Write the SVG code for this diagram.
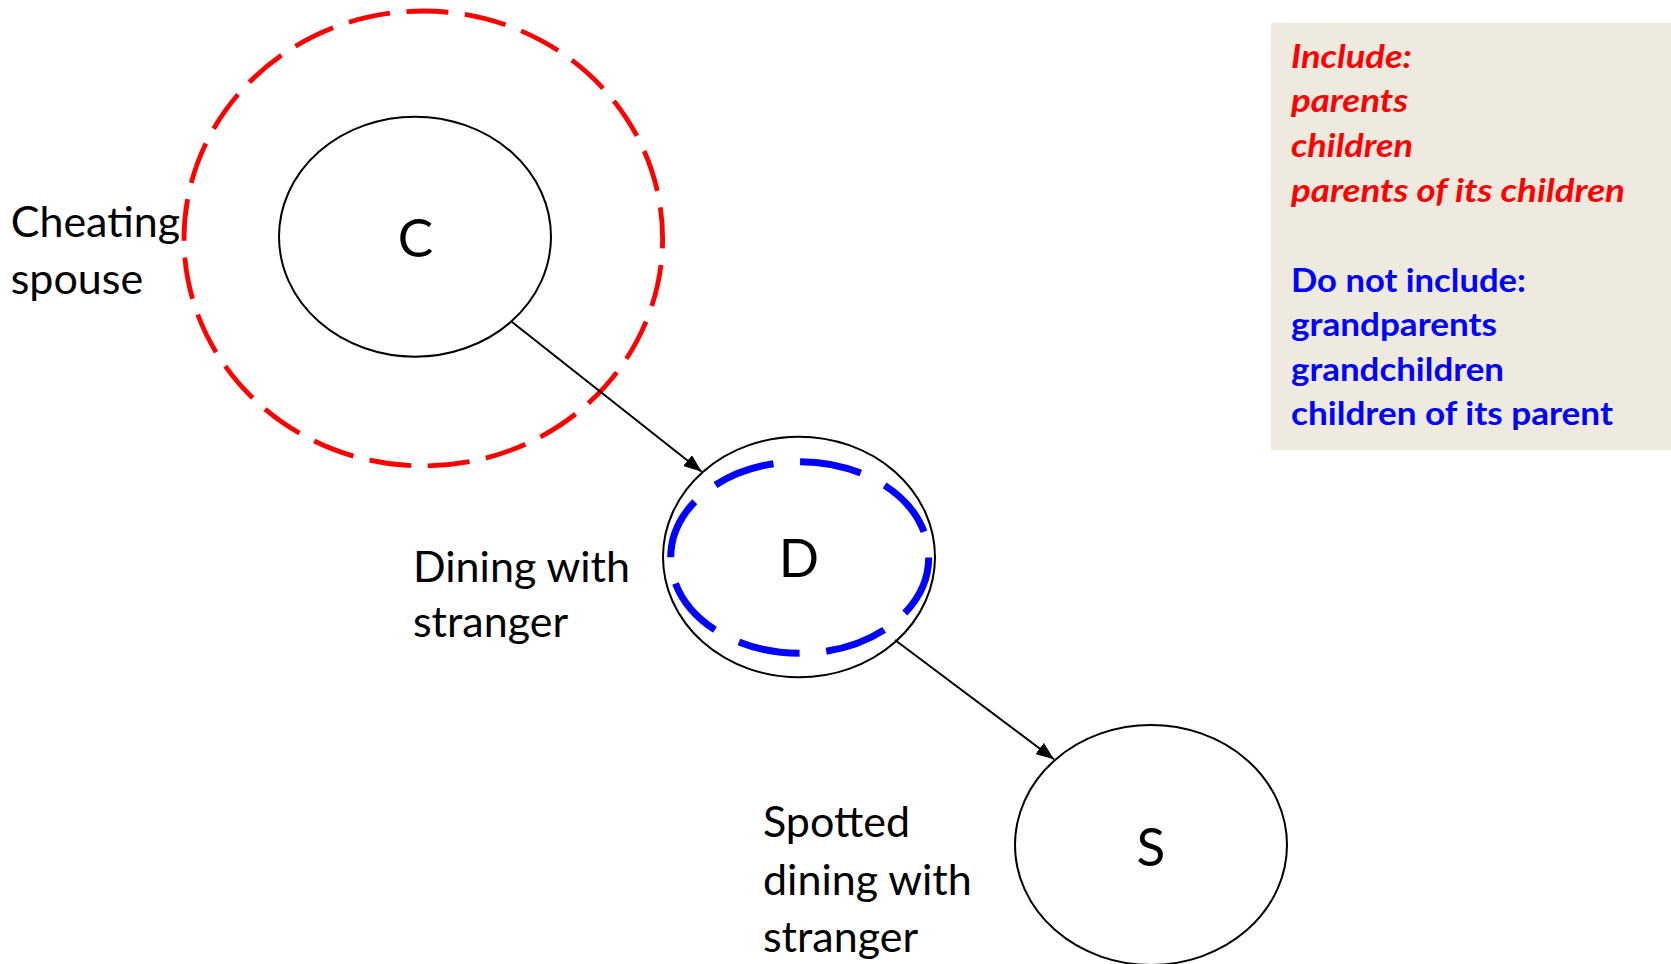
<svg xmlns="http://www.w3.org/2000/svg" width="1671" height="964" viewBox="0 0 1671 964">
<style>
.node{fill:#fff;stroke:#000;stroke-width:2}
.big{font-family:Lato,"Open Sans",sans-serif;font-size:53px;fill:#000;text-anchor:middle}
.lbl{font-family:Lato,"Open Sans",sans-serif;font-size:43px;fill:#000}
.edge{stroke:#000;stroke-width:2;fill:none;marker-end:url(#arr)}
.inc{font-family:Lato,"Open Sans",sans-serif;font-size:33px;font-weight:bold;font-style:italic;fill:#ff0000}
.exc{font-family:Lato,"Open Sans",sans-serif;font-size:33px;font-weight:bold;fill:#0000ff}
</style>
<defs>
<marker id="arr" markerUnits="userSpaceOnUse" markerWidth="18" markerHeight="14" refX="18" refY="7" orient="auto">
<path d="M0,0 L18,7 L0,14 z" fill="#000"/>
</marker>
</defs>
<rect width="1671" height="964" fill="#fff"/>
<g id="legend">
<rect x="1271" y="23" width="400" height="427" fill="#eeeae0"/>
<text class="inc" x="1291" y="67.7" textLength="121" lengthAdjust="spacingAndGlyphs">Include:</text>
<text class="inc" x="1291" y="112" textLength="117" lengthAdjust="spacingAndGlyphs">parents</text>
<text class="inc" x="1291" y="157" textLength="122" lengthAdjust="spacingAndGlyphs">children</text>
<text class="inc" x="1291" y="202" textLength="334" lengthAdjust="spacingAndGlyphs">parents of its children</text>
<text class="exc" x="1291" y="291.7" textLength="235" lengthAdjust="spacingAndGlyphs">Do not include:</text>
<text class="exc" x="1291" y="336" textLength="206" lengthAdjust="spacingAndGlyphs">grandparents</text>
<text class="exc" x="1291" y="380.5" textLength="213" lengthAdjust="spacingAndGlyphs">grandchildren</text>
<text class="exc" x="1291" y="424.5" textLength="322" lengthAdjust="spacingAndGlyphs">children of its parent</text>
</g>
<g id="node-C">
<ellipse class="node" cx="415" cy="236.7" rx="136" ry="120"/>
<text class="big" x="415.5" y="257">C</text>
<text class="lbl" x="10.7" y="236.7">Cheating</text>
<text class="lbl" x="10.7" y="294">spouse</text>
</g>
<g id="node-D">
<ellipse class="node" cx="799" cy="557" rx="136" ry="120.3"/>
<text class="big" x="799" y="577">D</text>
<text class="lbl" x="413" y="581.7">Dining with</text>
<text class="lbl" x="413" y="636.7">stranger</text>
</g>
<g id="node-S">
<ellipse class="node" cx="1151" cy="845" rx="136" ry="120"/>
<text class="big" x="1151" y="866">S</text>
<text class="lbl" x="763" y="836.7">Spotted</text>
<text class="lbl" x="763" y="895">dining with</text>
<text class="lbl" x="763" y="952.3">stranger</text>
</g>
<g id="highlights">
<ellipse cx="423.3" cy="238.5" rx="239.3" ry="227.5" fill="none" stroke="#ff0000" stroke-width="4.8" stroke-dasharray="42 16.67" stroke-dashoffset="32"/>
<ellipse cx="799.7" cy="557.5" rx="129" ry="95.8" fill="none" stroke="#0000ff" stroke-width="7" stroke-dasharray="62 26.75"/>
</g>
<g id="connectors">
<line class="edge" x1="511.7" y1="321.7" x2="701.7" y2="471.7"/>
<line class="edge" x1="895" y1="640" x2="1054" y2="759.3"/>
</g>
</svg>
